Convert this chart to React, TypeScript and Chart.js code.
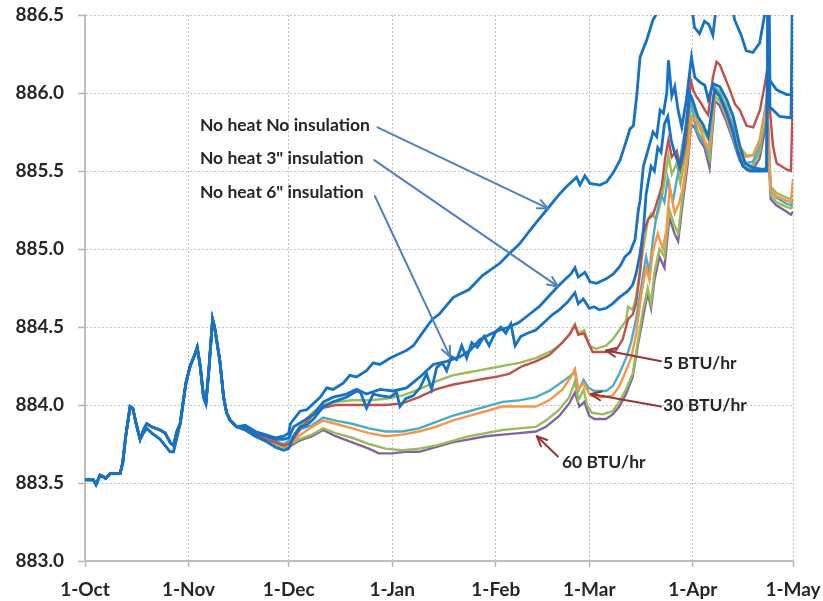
import React, { useEffect, useRef } from "react";
import { Chart, registerables } from "chart.js";

Chart.register(...registerables);

type Pt = [number, number];

// x values are days counted from 1 October
const MONTH_STARTS = [0, 31, 61, 92, 123, 151, 182, 212];
const MONTH_LABELS = ["1-Oct", "1-Nov", "1-Dec", "1-Jan", "1-Feb", "1-Mar", "1-Apr", "1-May"];
const Y_MIN = 883.0;
const Y_MAX = 886.5;
const Y_STEP = 0.5;

// Period before the treatments diverge (shared by every run)
const octStart: Pt[] = [
  [0, 883.52], [2.5, 883.52], [3.3, 883.49], [4.5, 883.55], [5.5, 883.54], [6.2, 883.53],
  [7.5, 883.56], [10.5, 883.56], [11.3, 883.63], [12.2, 883.8], [13.5, 883.99], [14.3, 883.98],
  [15.3, 883.88], [16.5, 883.78],
];
const octUpper: Pt[] = [
  [17.5, 883.84], [18.5, 883.88], [20, 883.86], [22.5, 883.84], [24, 883.82], [25.5, 883.76],
  [26.5, 883.74], [27.5, 883.83],
];
const octLower: Pt[] = [
  [17.5, 883.82], [18.5, 883.85], [20, 883.82], [22.5, 883.78], [24, 883.74], [25.5, 883.7],
  [26.5, 883.7], [27.5, 883.79],
];
const novPeaks: Pt[] = [
  [28.5, 883.88], [30.2, 884.14], [31.5, 884.25], [33, 884.33], [33.6, 884.37], [34.5, 884.25],
  [35.5, 884.05], [36.2, 884.01], [37, 884.2], [38.2, 884.55], [38.8, 884.5], [40.4, 884.28],
  [41.5, 884.05], [42.4, 883.95], [43.5, 883.9], [45.4, 883.86],
];

// No heat, no insulation
const noHeatNoIns: Pt[] = [
  [48, 883.87], [51, 883.83], [54, 883.81], [57, 883.79], [59.5, 883.8], [61, 883.82], [61.5, 883.88],
  [64.4, 883.96], [66.4, 883.97], [68.4, 884.01], [70.4, 884.05], [72.4, 884.11], [74.3, 884.1],
  [77.3, 884.14], [79.3, 884.19], [81.3, 884.18], [84.3, 884.22], [86.3, 884.27], [88.3, 884.26],
  [91.3, 884.3], [93.3, 884.32], [96.3, 884.35], [98.3, 884.38], [101.3, 884.47], [104, 884.55],
  [106, 884.58], [110.3, 884.69], [115, 884.74], [119, 884.83], [124.3, 884.91], [127, 884.97],
  [130, 885.03], [134, 885.14], [138.2, 885.25], [142, 885.35], [144.2, 885.4], [146.2, 885.44],
  [147.2, 885.46], [148.2, 885.41], [149.7, 885.47], [151.2, 885.42], [154.2, 885.41], [156.2, 885.43],
  [158.2, 885.49], [160.2, 885.57], [162.2, 885.7], [163.2, 885.77], [164.2, 885.79], [165.2, 885.98],
  [166.2, 886.23], [168.2, 886.34], [170.1, 886.47], [171.2, 886.51], [173, 886.65], [177, 886.8],
  [180, 886.75], [181.7, 886.55], [182.5, 886.42], [184, 886.38], [185.5, 886.46], [186.8, 886.44],
  [188, 886.37], [189, 886.55], [191, 886.75], [193.5, 886.6], [194.5, 886.47], [196.5, 886.37],
  [198, 886.27], [200, 886.26], [202, 886.32], [203.5, 886.5], [204.5, 886.95], [207, 886.85],
  [212, 886.8],
];

// No heat, 3" insulation
const noHeat3in: Pt[] = [
  [48, 883.86], [51, 883.82], [54, 883.8], [57, 883.78], [59.5, 883.78], [61, 883.79], [62.5, 883.86],
  [65.5, 883.9], [68.4, 883.94], [71.4, 884.02], [74.3, 884.05], [78.3, 884.07], [81.3, 884.1],
  [84.3, 884.07], [88.3, 884.1], [92.3, 884.09], [96.3, 884.11], [100.3, 884.18], [102.3, 884.22],
  [104.3, 884.26], [108.3, 884.28], [112.3, 884.31], [115.3, 884.35], [118.3, 884.42], [121, 884.45],
  [124, 884.48], [127, 884.5], [130, 884.53], [133, 884.58], [136, 884.63], [139, 884.7],
  [141.6, 884.76], [143.5, 884.8], [145.5, 884.84], [146.7, 884.88], [147.7, 884.82], [149.7, 884.85],
  [151.2, 884.79], [153.2, 884.78], [156.2, 884.81], [158.2, 884.84], [160.2, 884.89], [161.7, 884.95],
  [163.2, 884.98], [164.7, 885.06], [165.7, 885.25], [166.2, 885.31], [167.2, 885.53], [169.2, 885.68],
  [170.1, 885.75], [171.2, 885.72], [172.2, 885.89], [173.2, 885.87], [174.2, 886.0], [174.7, 886.21],
  [175.7, 885.98], [176.6, 886.04], [177.6, 885.89], [178.7, 885.78], [180.1, 885.96], [181.6, 886.23],
  [182.6, 886.1], [184.1, 886.07], [185.6, 886.05], [186.6, 885.96], [188.1, 886.06], [190.1, 886.04],
  [192.1, 885.96], [194.1, 885.85], [196.1, 885.66], [197.6, 885.55], [200.1, 885.52], [203.1, 885.51],
  [204.1, 885.52], [204.6, 886.9], [205.1, 886.08], [207.1, 886.02], [210.1, 885.99], [212, 885.99],
];

// No heat, 6" insulation
const noHeat6in: Pt[] = [
  [48, 883.84], [51, 883.8], [54, 883.77], [57, 883.73], [59.5, 883.71], [61, 883.72], [62.5, 883.8],
  [64.4, 883.86], [66.4, 883.87], [68.4, 883.91], [71.4, 883.99], [74.3, 884.02], [78.3, 884.05],
  [81.3, 884.09], [82.5, 884.08], [84.3, 883.98], [86.3, 884.07], [88.3, 884.06], [91.3, 884.05],
  [93.3, 884.08], [94.3, 883.99], [96, 884.04], [98.3, 884.06], [100.3, 884.11], [102.3, 884.2],
  [103.8, 884.1], [105.3, 884.24], [107, 884.27], [108.3, 884.22], [109.7, 884.31], [111.3, 884.29],
  [112.8, 884.38], [114.3, 884.3], [115.8, 884.4], [117.5, 884.37], [119.5, 884.44], [121, 884.38],
  [123, 884.47], [124.5, 884.5], [126, 884.46], [127.5, 884.52], [128.8, 884.38], [130.5, 884.44],
  [132.5, 884.46], [135, 884.48], [138, 884.54], [140, 884.58], [142, 884.61], [144.5, 884.66],
  [146.7, 884.72], [147.7, 884.65], [149.2, 884.68], [151, 884.62], [152.5, 884.63], [154, 884.61],
  [156, 884.62], [158, 884.65], [160, 884.69], [162.5, 884.73], [164, 884.77], [165, 884.84],
  [166.2, 884.97], [167.2, 885.12], [168, 885.35], [169.5, 885.53], [170.5, 885.5], [171.5, 885.65],
  [172.5, 885.62], [173.5, 885.8], [174.5, 885.85], [175.5, 885.7], [176.5, 885.62], [178, 885.53],
  [179, 885.62], [180, 885.8], [181, 886.0], [182, 885.95], [183.5, 885.85], [185, 885.8],
  [186.6, 885.72], [188.5, 886.02], [190, 885.98], [192, 885.88], [194, 885.75], [195.5, 885.62],
  [197, 885.53], [199, 885.5], [201, 885.5], [203, 885.5], [204.1, 885.5], [204.6, 887.0],
  [205.1, 885.91], [208, 885.85], [211.4, 885.84], [212, 887.0],
];

// 5 BTU/hr pair
const heat5Red: Pt[] = [
  [48, 883.85], [51, 883.81], [54, 883.78], [57, 883.76], [59.5, 883.74], [61, 883.75], [63, 883.8],
  [65, 883.86], [68, 883.93], [71, 883.98], [75, 884.0], [80, 884.0], [85, 884.0], [90, 884.0],
  [95, 884.01], [100, 884.05], [105, 884.1], [110, 884.13], [115, 884.15], [120, 884.17], [123, 884.18],
  [127, 884.2], [131, 884.25], [135, 884.28], [139, 884.32], [142, 884.38], [145, 884.45],
  [146.7, 884.51], [147.7, 884.45], [149.3, 884.46], [150.3, 884.42], [152, 884.34], [156, 884.34],
  [159, 884.35], [161, 884.42], [162.6, 884.55], [164, 884.58], [165, 884.65], [166.2, 884.85],
  [167.2, 885.1], [168.6, 885.19], [170.1, 885.22], [170.7, 885.26], [172.7, 885.4], [173.7, 885.58],
  [174.7, 885.7], [175.7, 885.59], [177.2, 885.63], [178.3, 885.51], [179.8, 885.66], [180.6, 885.85],
  [181.4, 886.08], [182.1, 886.02], [183, 885.98], [184.6, 885.93], [185.6, 885.89], [186.6, 885.86],
  [188, 886.1], [189.1, 886.2], [190.1, 886.18], [191.6, 886.1], [193.1, 886.02], [194.6, 885.93],
  [196.1, 885.89], [198.1, 885.79], [200.1, 885.78], [202.1, 885.89], [203.6, 886.06], [204.2, 886.14],
  [205.1, 885.89], [206, 885.66], [207.1, 885.55], [210.1, 885.51], [211.4, 885.5], [212, 886.04],
];
const heat5Green: Pt[] = [
  [48, 883.85], [51, 883.81], [54, 883.78], [57, 883.76], [59.5, 883.74], [61, 883.76], [63, 883.82],
  [65, 883.88], [68, 883.95], [71, 884.0], [75, 884.02], [80, 884.03], [85, 884.03], [90, 884.04],
  [95, 884.06], [100, 884.1], [105, 884.15], [110, 884.19], [115, 884.21], [120, 884.23], [125, 884.25],
  [130, 884.27], [135, 884.3], [140, 884.35], [143, 884.4], [145, 884.45], [146.7, 884.52],
  [147.7, 884.46], [149.5, 884.48], [151, 884.38], [153, 884.36], [156, 884.38], [158, 884.42],
  [160, 884.48], [162, 884.54], [162.6, 884.63], [164, 884.61], [165, 884.69], [166.5, 884.91],
  [167.6, 885.06], [168.6, 885.19], [169.6, 885.23], [171, 885.19], [172, 885.27], [173, 885.36],
  [174, 885.5], [174.7, 885.6], [175.7, 885.48], [177.2, 885.55], [178.3, 885.42], [179.8, 885.6],
  [181.3, 885.88], [182.1, 885.9], [184, 885.8], [186.6, 885.7], [188.6, 886.04], [190, 886.01],
  [192, 885.92], [194, 885.8], [196, 885.66], [198, 885.6], [200, 885.6], [202, 885.7], [203.5, 885.88],
  [204.2, 885.96], [205.3, 885.4], [207, 885.36], [210, 885.33], [211.4, 885.32], [212, 885.4],
];

// 30 BTU/hr pair
const heat30Teal: Pt[] = [
  [48, 883.86], [51, 883.82], [54, 883.79], [57, 883.77], [59.5, 883.75], [61, 883.77], [64, 883.84],
  [68, 883.87], [71.3, 883.92], [75, 883.9], [80, 883.88], [85, 883.85], [90, 883.83], [95, 883.83],
  [100, 883.85], [105, 883.89], [110, 883.93], [115, 883.96], [120, 883.99], [125, 884.02],
  [130, 884.03], [135, 884.05], [139, 884.09], [143, 884.15], [145.5, 884.19], [146.7, 884.21],
  [147.7, 884.09], [149.3, 884.16], [150.8, 884.11], [152.5, 884.09], [156, 884.09], [158, 884.12],
  [160, 884.2], [162, 884.3], [163.5, 884.4], [165, 884.55], [166.5, 884.75], [168, 884.95],
  [169, 884.85], [170, 885.05], [171, 885.2], [172.5, 885.35], [173.5, 885.3], [174.5, 885.45],
  [176, 885.3], [177.5, 885.48], [179, 885.68], [180.5, 885.84], [181.5, 885.95], [183, 885.76],
  [185, 885.7], [186.6, 885.62], [188.6, 886.03], [190, 886.0], [192, 885.9], [194, 885.78],
  [196, 885.62], [198, 885.55], [200, 885.56], [202, 885.66], [203.5, 885.86], [204.2, 885.97],
  [205.3, 885.38], [207, 885.33], [210, 885.29], [211.4, 885.28], [212, 885.32],
];
const heat30Orange: Pt[] = [
  [48, 883.85], [51, 883.81], [54, 883.78], [57, 883.76], [59.5, 883.74], [61, 883.74], [64, 883.8],
  [68, 883.86], [71.3, 883.9], [75, 883.88], [80, 883.85], [85, 883.82], [90, 883.8], [95, 883.81],
  [100, 883.83], [105, 883.86], [110, 883.9], [115, 883.93], [120, 883.96], [125, 883.99],
  [130, 883.99], [135, 883.99], [139, 884.03], [143, 884.1], [145.5, 884.18], [146.7, 884.23],
  [147.7, 884.1], [149.3, 884.14], [151.3, 884.06], [155, 884.05], [158, 884.06], [160, 884.12],
  [162, 884.22], [163.5, 884.3], [165, 884.45], [166.5, 884.7], [168, 884.88], [169, 884.8],
  [170, 884.98], [171.5, 885.1], [173, 885.0], [174.1, 885.12], [175.1, 885.4], [176.6, 885.23],
  [178, 885.3], [179.1, 885.4], [180.6, 885.61], [181.6, 885.83], [182.5, 885.84], [184, 885.78],
  [186.6, 885.64], [188.6, 886.0], [190, 885.98], [192, 885.85], [194, 885.74], [196, 885.63],
  [198, 885.59], [200, 885.6], [202, 885.68], [203.5, 885.85], [204.2, 885.95], [205.3, 885.38],
  [207, 885.34], [210, 885.31], [211.4, 885.3], [212, 885.45],
];

// 60 BTU/hr pair
const heat60Green: Pt[] = [
  [48, 883.84], [51, 883.8], [54, 883.77], [57, 883.75], [59.5, 883.73], [61, 883.74], [64, 883.78],
  [68, 883.81], [71.3, 883.85], [75, 883.82], [80, 883.79], [85, 883.75], [90, 883.72], [95, 883.71],
  [100, 883.72], [105, 883.74], [110, 883.77], [115, 883.8], [120, 883.82], [125, 883.84],
  [130, 883.85], [135, 883.86], [138, 883.9], [142, 883.97], [145, 884.05], [146.7, 884.15],
  [147.7, 884.03], [149.3, 884.1], [150.3, 884.0], [151.8, 883.95], [155, 883.94], [158, 883.96],
  [160, 884.02], [162, 884.1], [164, 884.2], [165.5, 884.4], [167, 884.6], [168.5, 884.75],
  [169.5, 884.65], [170.5, 884.85], [172, 885.0], [173.5, 884.95], [175, 885.25], [176.5, 885.15],
  [177.6, 885.1], [179, 885.35], [180.5, 885.6], [181.5, 885.85], [182.5, 885.82], [184, 885.72],
  [185.5, 885.68], [187, 885.58], [188.6, 885.98], [190, 885.95], [192, 885.85], [194, 885.72],
  [196, 885.58], [198, 885.52], [200, 885.54], [202, 885.62], [203.5, 885.82], [204.2, 885.93],
  [205.3, 885.35], [207, 885.3], [210, 885.27], [211.4, 885.26], [212, 885.28],
];
const heat60Purple: Pt[] = [
  [48, 883.84], [51, 883.8], [54, 883.77], [57, 883.75], [59.5, 883.73], [61, 883.73], [64, 883.77],
  [68, 883.8], [71.3, 883.84], [75, 883.8], [80, 883.76], [85, 883.72], [88, 883.69], [92, 883.69],
  [96, 883.7], [100, 883.7], [105, 883.73], [110, 883.76], [115, 883.78], [120, 883.8], [125, 883.81],
  [130, 883.82], [135, 883.83], [138, 883.86], [142, 883.93], [145, 884.01], [146.7, 884.08],
  [148, 883.99], [149.5, 884.02], [151, 883.93], [152.5, 883.91], [156, 883.91], [158, 883.94],
  [160, 883.99], [162, 884.07], [164, 884.18], [165.5, 884.38], [167, 884.55], [168.5, 884.72],
  [169.5, 884.62], [170.5, 884.8], [172, 884.95], [173.5, 884.88], [175, 885.2], [176.5, 885.1],
  [177.6, 885.05], [179, 885.3], [180.5, 885.55], [181.5, 885.8], [182.5, 885.78], [184, 885.7],
  [185.5, 885.65], [187, 885.52], [188.6, 885.95], [190, 885.92], [192, 885.82], [194, 885.7],
  [196, 885.57], [198, 885.51], [200, 885.51], [202, 885.58], [203.5, 885.75], [204.2, 885.88],
  [205.3, 885.32], [207, 885.28], [210, 885.24], [211.4, 885.22], [212, 885.24],
];

const BLUE = "#1872c4";
const RED = "#c0504d";
const GREEN = "#9bbb59";
const TEAL = "#4bacc6";
const ORANGE = "#f79646";
const PURPLE = "#8064a2";
const TEXT = "#262626";
const FONT = "Lato, 'Open Sans', sans-serif";

type Callout = {
  text: string;
  at: Pt; // text anchor (left, middle)
  from: Pt; // arrow tail
  to: Pt; // arrow head
  color: string;
};

const CALLOUTS: Callout[] = [
  { text: "No heat No insulation", at: [34.4, 885.79], from: [87.6, 885.78], to: [138.6, 885.26], color: "#4f81bd" },
  { text: 'No heat 3" insulation', at: [34.4, 885.58], from: [86.6, 885.57], to: [141.6, 884.76], color: "#4f81bd" },
  { text: 'No heat 6" insulation', at: [34.4, 885.36], from: [86.8, 885.34], to: [109.3, 884.31], color: "#4f81bd" },
  { text: "5 BTU/hr", at: [173.1, 884.27], from: [172.5, 884.28], to: [156.0, 884.35], color: "#953735" },
  { text: "30 BTU/hr", at: [173.1, 884.0], from: [172.5, 883.99], to: [151.5, 884.07], color: "#953735" },
  { text: "60 BTU/hr", at: [142.8, 883.63], from: [141.6, 883.67], to: [135.3, 883.8], color: "#953735" },
];

function series(parts: Pt[][]) {
  return parts.flat().map(([x, y]) => ({ x, y }));
}

const calloutPlugin = {
  id: "callouts",
  afterDraw(chart: any) {
    const { ctx } = chart;
    const xs = chart.scales.x;
    const ys = chart.scales.y;
    ctx.save();
    for (const c of CALLOUTS) {
      const x0 = xs.getPixelForValue(c.from[0]);
      const y0 = ys.getPixelForValue(c.from[1]);
      const x1 = xs.getPixelForValue(c.to[0]);
      const y1 = ys.getPixelForValue(c.to[1]);
      ctx.strokeStyle = c.color;
      ctx.lineWidth = 2;
      ctx.lineCap = "round";
      ctx.lineJoin = "round";
      ctx.beginPath();
      ctx.moveTo(x0, y0);
      ctx.lineTo(x1, y1);
      ctx.stroke();
      const a = Math.atan2(y1 - y0, x1 - x0);
      const len = 11;
      const spread = 0.42;
      ctx.beginPath();
      ctx.moveTo(x1 - len * Math.cos(a - spread), y1 - len * Math.sin(a - spread));
      ctx.lineTo(x1, y1);
      ctx.lineTo(x1 - len * Math.cos(a + spread), y1 - len * Math.sin(a + spread));
      ctx.stroke();

      ctx.fillStyle = TEXT;
      ctx.font = `bold 17.5px ${FONT}`;
      ctx.textAlign = "left";
      ctx.textBaseline = "middle";
      ctx.fillText(c.text, xs.getPixelForValue(c.at[0]), ys.getPixelForValue(c.at[1]));
    }
    ctx.restore();
  },
};

export default function App() {
  const canvasRef = useRef<HTMLCanvasElement | null>(null);

  useEffect(() => {
    const canvas = canvasRef.current;
    if (!canvas) return;

    const line = (label: string, data: { x: number; y: number }[], color: string, width: number) => ({
      label,
      data,
      borderColor: color,
      backgroundColor: color,
      borderWidth: width,
      pointRadius: 0,
      tension: 0,
      fill: false,
    });

    const chart = new Chart(canvas, {
      type: "line",
      data: {
        datasets: [
          line("No heat No insulation", series([octStart, octUpper, novPeaks, noHeatNoIns]), BLUE, 2.8),
          line('No heat 3" insulation', series([octStart, octUpper, novPeaks, noHeat3in]), BLUE, 2.8),
          line('No heat 6" insulation', series([octStart, octLower, novPeaks, noHeat6in]), BLUE, 2.8),
          line("5 BTU/hr (red)", series([octStart, octUpper, novPeaks, heat5Red]), RED, 2.4),
          line("30 BTU/hr (orange)", series([octStart, octUpper, novPeaks, heat30Orange]), ORANGE, 2.4),
          line("30 BTU/hr (teal)", series([octStart, octUpper, novPeaks, heat30Teal]), TEAL, 2.4),
          line("5 BTU/hr (green)", series([octStart, octUpper, novPeaks, heat5Green]), GREEN, 2.4),
          line("60 BTU/hr (green)", series([octStart, octLower, novPeaks, heat60Green]), GREEN, 2.4),
          line("60 BTU/hr (purple)", series([octStart, octLower, novPeaks, heat60Purple]), PURPLE, 2.4),
        ],
      },
      options: {
        responsive: false,
        devicePixelRatio: 1,
        animation: false,
        parsing: false,
        layout: { padding: { top: 15, right: 30, left: 0, bottom: 0 } },
        plugins: { legend: { display: false }, tooltip: { enabled: false } },
        scales: {
          x: {
            type: "linear",
            min: MONTH_STARTS[0],
            max: MONTH_STARTS[MONTH_STARTS.length - 1],
            afterBuildTicks: (scale: any) => {
              scale.ticks = MONTH_STARTS.map((v) => ({ value: v }));
            },
            afterFit: (scale: any) => {
              scale.height = 40;
              scale.paddingLeft = 0;
              scale.paddingRight = 0;
            },
            ticks: {
              autoSkip: false,
              maxRotation: 0,
              padding: 11,
              color: TEXT,
              font: { family: FONT, size: 19, weight: "bold" },
              callback: (_v: any, i: number) => MONTH_LABELS[i],
            },
            grid: { color: "#c4c4c4", lineWidth: 1, tickLength: 6, tickColor: "#b4b4b4", tickWidth: 1.5 },
            border: { display: true, color: "#bdbdbd", width: 2, dash: [2, 2] },
          },
          y: {
            type: "linear",
            min: Y_MIN,
            max: Y_MAX,
            afterFit: (scale: any) => {
              scale.width = 85;
              scale.paddingTop = 0;
              scale.paddingBottom = 0;
            },
            ticks: {
              stepSize: Y_STEP,
              padding: 14,
              color: TEXT,
              font: { family: FONT, size: 19, weight: "bold" },
              callback: (v: any) => Number(v).toFixed(1),
            },
            grid: { color: "#c4c4c4", lineWidth: 1, tickLength: 7, tickColor: "#b4b4b4", tickWidth: 1.5 },
            border: { display: true, color: "#bdbdbd", width: 2, dash: [2, 2] },
          },
        },
      },
      plugins: [calloutPlugin],
    } as any);

    return () => chart.destroy();
  }, []);

  return (
    <div style={{ position: "fixed", left: 0, top: 0, width: 823, height: 601, background: "#ffffff" }}>
      <canvas ref={canvasRef} width={823} height={601} style={{ display: "block" }} />
    </div>
  );
}
